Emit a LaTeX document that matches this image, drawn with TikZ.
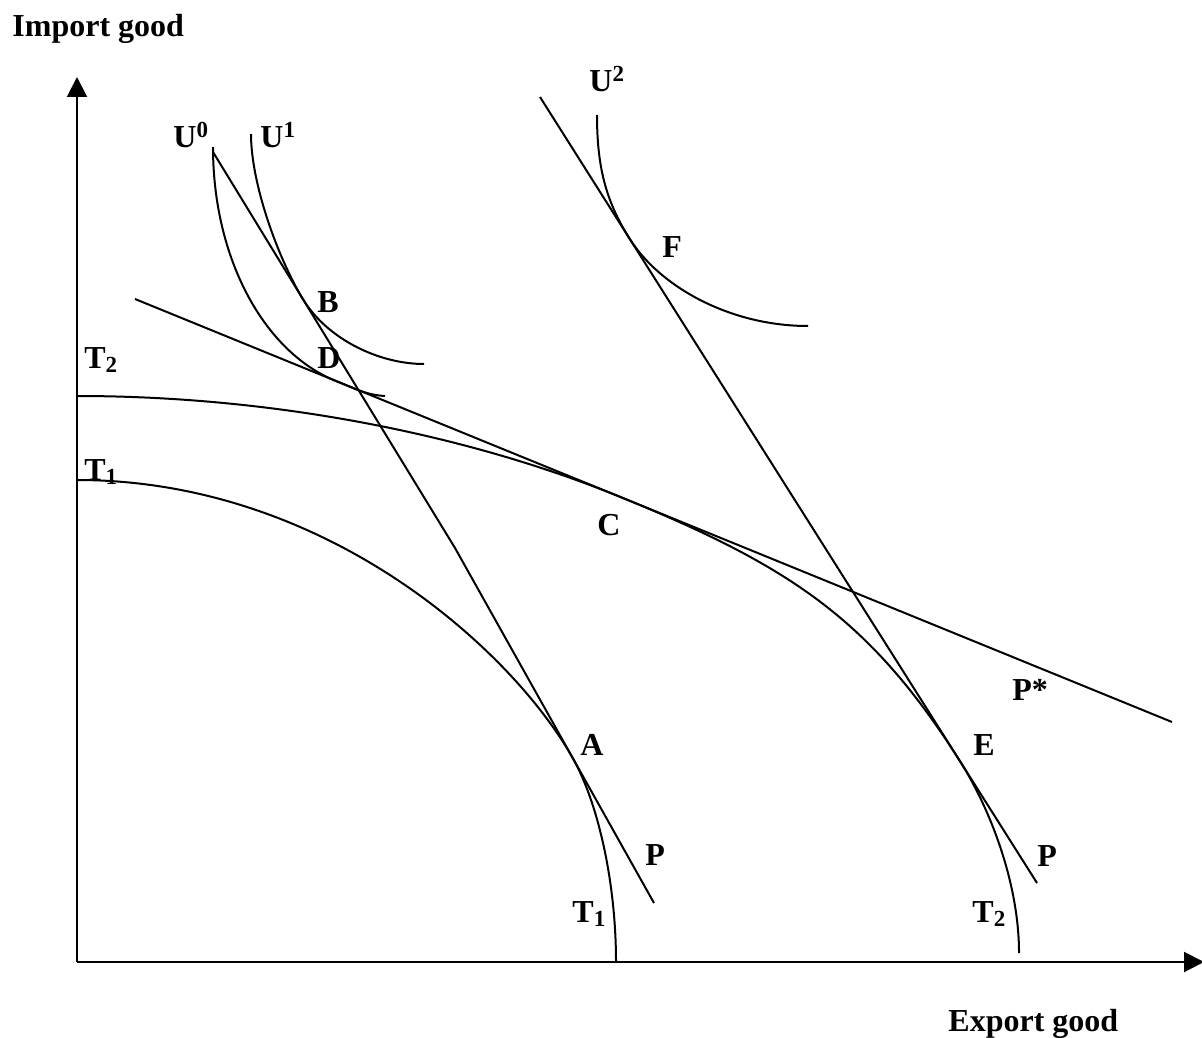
\documentclass[tikz,border=0pt]{standalone}
\usepackage{fontspec}
\setmainfont{Liberation Serif}
\usetikzlibrary{arrows.meta}
\newcommand\supx[1]{\raisebox{5pt}{\fontsize{11.5pt}{12pt}\selectfont #1}}
\newcommand\subx[1]{\raisebox{-2pt}{\fontsize{11.5pt}{12pt}\selectfont #1}}
\begin{document}
\begin{tikzpicture}[x=0.5pt,y=-0.5pt,
  curve/.style={line width=1pt},
  axisline/.style={line width=1pt,-{Triangle[width=10pt,length=10pt]}},
  lbl/.style={anchor=base west,inner sep=0pt,font=\fontsize{16pt}{19pt}\selectfont\bfseries}]
\useasboundingbox (0,0) rectangle (1202,1037);
% axes
\coordinate (O) at (77,962);
\coordinate (ytip) at (77,77);
\coordinate (xtip) at (1204,962);
\draw[axisline] (O) -- (ytip);
\draw[axisline] (O) -- (xtip);
% key points
\coordinate (T1top) at (77,480);
\coordinate (A) at (573,758.5);
\coordinate (T1bot) at (616,962);
\coordinate (T2top) at (77,396);
\coordinate (C) at (620,496.8);
\coordinate (E) at (960,761.2);
\coordinate (T2bot) at (1019,953);
\coordinate (U0s) at (213,147);
\coordinate (D) at (335,380.6);
\coordinate (U0e) at (385,396);
\coordinate (U1s) at (251,134);
\coordinate (B) at (303,299.3);
\coordinate (U1e) at (424,364);
\coordinate (U2s) at (597,115);
\coordinate (F) at (630,239.3);
\coordinate (U2e) at (808,326);
\coordinate (Ps) at (213,152);
\coordinate (Pk) at (455,548);
\coordinate (Pe) at (654,903);
\coordinate (Qs) at (135,299);
\coordinate (Qe) at (1172,722);
\coordinate (Rs) at (540,97);
\coordinate (Re) at (1037,883);
% transformation curves
\draw[curve] (T1top) .. controls (327,480) and (513,651.5) .. (A)
  .. controls (598,803) and (616,882) .. (T1bot);
\draw[curve] (T2top) .. controls (277,396) and (470,435.6) .. (C)
  .. controls (790,566.1) and (870,618.9) .. (E)
  .. controls (990,808.6) and (1019,883) .. (T2bot);
% indifference curves
\draw[curve] (U0s) .. controls (213,260) and (265,352) .. (D)
  .. controls (360,390.8) and (368,395) .. (U0e);
\draw[curve] (U1s) .. controls (251,184) and (278,258) .. (B)
  .. controls (328,340) and (380,364) .. (U1e);
\draw[curve] (U2s) .. controls (597,165) and (605,200.3) .. (F)
  .. controls (660,286.7) and (730,326) .. (U2e);
% price lines
\draw[curve] (Ps) -- (Pk) -- (Pe);
\draw[curve] (Qs) -- (Qe);
\draw[curve] (Rs) -- (Re);
% labels
\node[lbl] (ylab) at (12,37) {Import good};
\node[lbl] (xlab) at (948,1031) {Export good};
\node[lbl] (lU0) at (173,148) {U\supx{0}};
\node[lbl] (lU1) at (260,148) {U\supx{1}};
\node[lbl] (lU2) at (589,92) {U\supx{2}};
\node[lbl] (lB) at (317,313) {B};
\node[lbl] (lD) at (317,368) {D};
\node[lbl] (lT2a) at (84,368) {T\subx{2}};
\node[lbl] (lT1a) at (84,480) {T\subx{1}};
\node[lbl] (lC) at (597,535) {C};
\node[lbl] (lF) at (662,258) {F};
\node[lbl] (lA) at (580,755) {A};
\node[lbl] (lP1) at (645,865) {P};
\node[lbl] (lT1b) at (572,922) {T\subx{1}};
\node[lbl] (lPs) at (1012,700) {P*};
\node[lbl] (lE) at (973,755) {E};
\node[lbl] (lP2) at (1037,866) {P};
\node[lbl] (lT2b) at (972,922) {T\subx{2}};
\end{tikzpicture}
\end{document}
